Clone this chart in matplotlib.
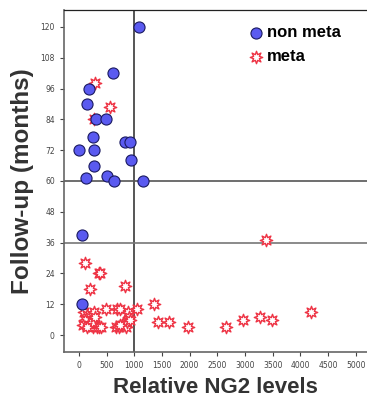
import matplotlib
matplotlib.use("Agg")
import matplotlib.pyplot as plt

# non metastatic (blue circles)
non_meta_x = [1090, 608, 175, 145, 313, 482, 247, 6, 265, 831, 921, 271, 945, 132, 506, 626, 1150, 66, 66]
non_meta_y = [120, 102, 96, 90, 84, 84, 77, 72, 72, 75, 75, 66, 68, 61, 62, 60, 60, 39, 12]

# metastatic (red stars)
meta_x = [295, 554, 277, 3371, 114, 367, 380, 205, 825, 1349, 482, 686, 746, 1053, 879,
          1421, 1626, 1975, 2661, 2962, 3263, 3491, 4184,
          100, 150, 200, 250, 120, 80, 180, 260, 320, 370, 400, 280, 230, 150, 300,
          680, 720, 780, 850, 870, 900, 920, 740]
meta_y = [98, 89, 84, 37, 28, 24, 24, 18, 19, 12, 10, 10, 10, 10, 9,
          5, 5, 3, 3, 6, 7, 6, 9,
          9, 8, 7, 6, 6, 4, 4, 3, 3, 3, 3, 9, 5, 3, 7,
          3, 3, 4, 3, 5, 7, 6, 4]

x_ticks = [0, 500, 1000, 1500, 2000, 2500, 3000, 3500, 4000, 4500, 5000]
y_ticks = [0, 12, 24, 36, 48, 60, 72, 84, 96, 108, 120]

fig = plt.figure(figsize=(3.67, 4.0), dpi=100)
ax = fig.add_axes([0.174, 0.12, 0.826, 0.855])

ax.axvline(1000, color="#555555", lw=1.4, zorder=1)
ax.axhline(60, color="#555555", lw=1.2, zorder=1)
ax.axhline(36, color="#777777", lw=1.2, zorder=1)

ax.scatter(meta_x, meta_y, marker=(8, 1, 0), s=80, facecolors="white",
           edgecolors="#ee3344", linewidths=1.0, zorder=3, label="meta")
ax.scatter(non_meta_x, non_meta_y, marker="o", s=64, facecolors="#5a5af0",
           edgecolors="#1a1a60", linewidths=0.8, zorder=4, label="non meta")

ax.set_xlim(-270, 5201)
ax.set_ylim(-6.6, 126.6)
ax.set_xticks(x_ticks)
ax.set_yticks(y_ticks)
ax.tick_params(axis="both", labelsize=5.5, labelcolor="#444444", color="#444444",
               length=3, width=0.8, direction="out")

for s in ["left", "bottom"]:
    ax.spines[s].set_color("#666666")
    ax.spines[s].set_linewidth(1.2)
ax.spines["top"].set_color("#222222")
ax.spines["top"].set_linewidth(0.9)
ax.spines["right"].set_visible(False)

ax.set_xlabel("Relative NG2 levels", fontsize=16, fontweight="bold",
              family="Liberation Sans", color="#333333", labelpad=5)
ax.set_ylabel("Follow-up (months)", fontsize=17.5, fontweight="bold",
              family="Liberation Sans", color="#333333", labelpad=5)

handles, labels = ax.get_legend_handles_labels()
leg = ax.legend(handles[::-1], labels[::-1], loc="upper left", bbox_to_anchor=(0.567, 0.985),
                frameon=False, prop={"family": "Liberation Sans", "weight": "bold", "size": 12},
                handletextpad=0.05, labelspacing=0.55, borderaxespad=0.2, handlelength=1.2)

fig.savefig("out.png", dpi=100)
